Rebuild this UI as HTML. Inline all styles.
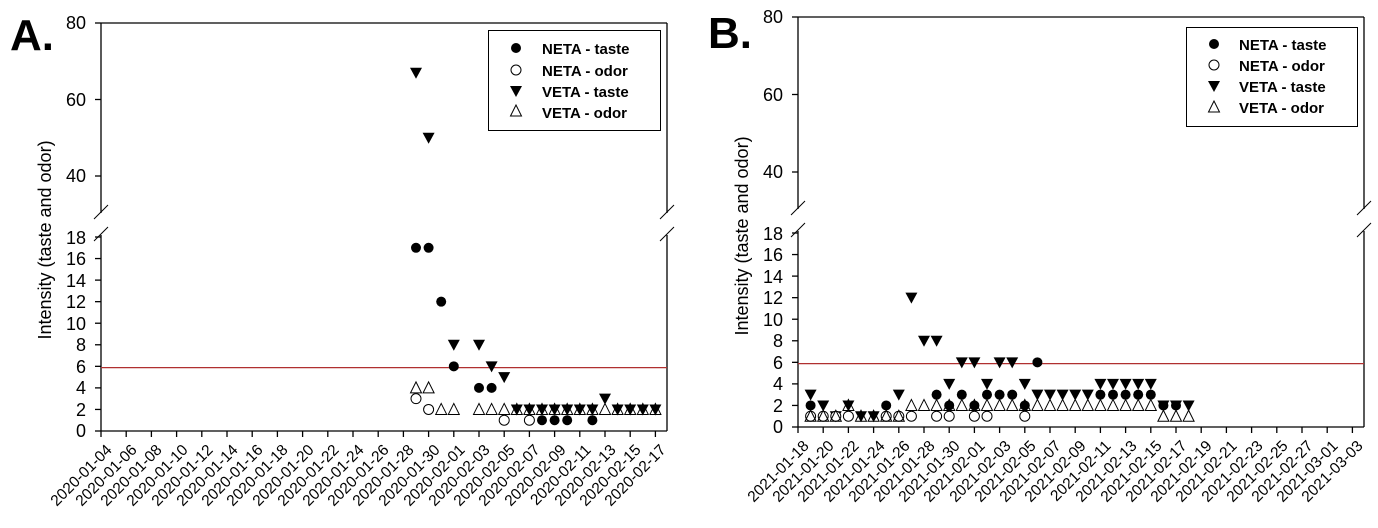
<!DOCTYPE html>
<html><head><meta charset="utf-8"><style>
body{margin:0;background:#fff}
svg{display:block;font-family:"Liberation Sans",Arial,sans-serif}
.t{font-size:18px;fill:#000}
.d{font-size:15.5px;fill:#000}
.lg{font-size:15px;font-weight:bold;fill:#000}
</style></head><body>
<svg id="s" width="1378" height="528" viewBox="0 0 1378 528" xmlns="http://www.w3.org/2000/svg">
<rect width="1378" height="528" fill="#fff"/>
<text x="10" y="50" style="font-size:44px;font-weight:bold">A.</text>
<text x="708" y="48" style="font-size:44px;font-weight:bold">B.</text>
<text class="t" transform="translate(51,240) rotate(-90)" text-anchor="middle" style="font-size:18px">Intensity (taste and odor)</text>
<text class="t" transform="translate(748,236) rotate(-90)" text-anchor="middle" style="font-size:18px">Intensity (taste and odor)</text>
<g id="A"></g><g id="B"></g>
<g class="t" text-anchor="end">
<text x="86" y="29">80</text><text x="86" y="106">60</text><text x="86" y="182">40</text>
<text x="86" y="244">18</text><text x="86" y="265">16</text><text x="86" y="287">14</text><text x="86" y="308">12</text><text x="86" y="330">10</text><text x="86" y="351">8</text><text x="86" y="373">6</text><text x="86" y="394">4</text><text x="86" y="416">2</text><text x="86" y="437">0</text>
<text x="783" y="23">80</text><text x="783" y="101">60</text><text x="783" y="178">40</text>
<text x="783" y="240">18</text><text x="783" y="261">16</text><text x="783" y="283">14</text><text x="783" y="304">12</text><text x="783" y="326">10</text><text x="783" y="347">8</text><text x="783" y="369">6</text><text x="783" y="390">4</text><text x="783" y="412">2</text><text x="783" y="433">0</text>
</g>
<g class="d" text-anchor="end">
<text transform="translate(104,442) rotate(-45)" dy="0.8em">2020-01-04</text>
<text transform="translate(129,442) rotate(-45)" dy="0.8em">2020-01-06</text>
<text transform="translate(154,442) rotate(-45)" dy="0.8em">2020-01-08</text>
<text transform="translate(180,442) rotate(-45)" dy="0.8em">2020-01-10</text>
<text transform="translate(205,442) rotate(-45)" dy="0.8em">2020-01-12</text>
<text transform="translate(230,442) rotate(-45)" dy="0.8em">2020-01-14</text>
<text transform="translate(255,442) rotate(-45)" dy="0.8em">2020-01-16</text>
<text transform="translate(280,442) rotate(-45)" dy="0.8em">2020-01-18</text>
<text transform="translate(306,442) rotate(-45)" dy="0.8em">2020-01-20</text>
<text transform="translate(331,442) rotate(-45)" dy="0.8em">2020-01-22</text>
<text transform="translate(356,442) rotate(-45)" dy="0.8em">2020-01-24</text>
<text transform="translate(381,442) rotate(-45)" dy="0.8em">2020-01-26</text>
<text transform="translate(406,442) rotate(-45)" dy="0.8em">2020-01-28</text>
<text transform="translate(432,442) rotate(-45)" dy="0.8em">2020-01-30</text>
<text transform="translate(457,442) rotate(-45)" dy="0.8em">2020-02-01</text>
<text transform="translate(482,442) rotate(-45)" dy="0.8em">2020-02-03</text>
<text transform="translate(507,442) rotate(-45)" dy="0.8em">2020-02-05</text>
<text transform="translate(532,442) rotate(-45)" dy="0.8em">2020-02-07</text>
<text transform="translate(558,442) rotate(-45)" dy="0.8em">2020-02-09</text>
<text transform="translate(583,442) rotate(-45)" dy="0.8em">2020-02-11</text>
<text transform="translate(608,442) rotate(-45)" dy="0.8em">2020-02-13</text>
<text transform="translate(633,442) rotate(-45)" dy="0.8em">2020-02-15</text>
<text transform="translate(658,442) rotate(-45)" dy="0.8em">2020-02-17</text>
<text transform="translate(801,438) rotate(-45)" dy="0.8em">2021-01-18</text>
<text transform="translate(826,438) rotate(-45)" dy="0.8em">2021-01-20</text>
<text transform="translate(851,438) rotate(-45)" dy="0.8em">2021-01-22</text>
<text transform="translate(877,438) rotate(-45)" dy="0.8em">2021-01-24</text>
<text transform="translate(902,438) rotate(-45)" dy="0.8em">2021-01-26</text>
<text transform="translate(927,438) rotate(-45)" dy="0.8em">2021-01-28</text>
<text transform="translate(952,438) rotate(-45)" dy="0.8em">2021-01-30</text>
<text transform="translate(977,438) rotate(-45)" dy="0.8em">2021-02-01</text>
<text transform="translate(1003,438) rotate(-45)" dy="0.8em">2021-02-03</text>
<text transform="translate(1028,438) rotate(-45)" dy="0.8em">2021-02-05</text>
<text transform="translate(1053,438) rotate(-45)" dy="0.8em">2021-02-07</text>
<text transform="translate(1078,438) rotate(-45)" dy="0.8em">2021-02-09</text>
<text transform="translate(1103,438) rotate(-45)" dy="0.8em">2021-02-11</text>
<text transform="translate(1129,438) rotate(-45)" dy="0.8em">2021-02-13</text>
<text transform="translate(1154,438) rotate(-45)" dy="0.8em">2021-02-15</text>
<text transform="translate(1179,438) rotate(-45)" dy="0.8em">2021-02-17</text>
<text transform="translate(1204,438) rotate(-45)" dy="0.8em">2021-02-19</text>
<text transform="translate(1229,438) rotate(-45)" dy="0.8em">2021-02-21</text>
<text transform="translate(1255,438) rotate(-45)" dy="0.8em">2021-02-23</text>
<text transform="translate(1280,438) rotate(-45)" dy="0.8em">2021-02-25</text>
<text transform="translate(1305,438) rotate(-45)" dy="0.8em">2021-02-27</text>
<text transform="translate(1330,438) rotate(-45)" dy="0.8em">2021-03-01</text>
<text transform="translate(1355,438) rotate(-45)" dy="0.8em">2021-03-03</text>
</g>
<rect x="488.5" y="30.5" width="172" height="100" fill="#fff" stroke="#000"/>
<g class="lg"><text x="542" y="54">NETA - taste</text><text x="542" y="76">NETA - odor</text><text x="542" y="97">VETA - taste</text><text x="542" y="118">VETA - odor</text></g>
<rect x="1186.5" y="27.5" width="171" height="99" fill="#fff" stroke="#000"/>
<g class="lg"><text x="1239" y="50">NETA - taste</text><text x="1239" y="71">NETA - odor</text><text x="1239" y="92">VETA - taste</text><text x="1239" y="113">VETA - odor</text></g>
<g id="L"></g>
</svg>
<script>
var NS="http://www.w3.org/2000/svg";
function el(p,t,a){var e=document.createElementNS(NS,t);for(var k in a)e.setAttribute(k,a[k]);p.appendChild(e);return e;}
function mk(g,type,x,y){
 var r=5;
 if(type=='c')el(g,'circle',{cx:x,cy:y,r:r,fill:'#000'});
 else if(type=='o')el(g,'circle',{cx:x,cy:y,r:r,fill:'#fff',stroke:'#000','stroke-width':1});
 else if(type=='v')el(g,'polygon',{points:(x-6)+','+(y-5)+' '+(x+6)+','+(y-5)+' '+x+','+(y+6),fill:'#000'});
 else el(g,'polygon',{points:(x-5.5)+','+(y+5)+' '+(x+5.5)+','+(y+5)+' '+x+','+(y-6),fill:'none',stroke:'#000','stroke-width':1});
}
function panel(id,X0,top,uy80,uy40,ly18,ly0,data){
 var g=document.getElementById(id),X1=X0+566,st={stroke:'#000','stroke-width':1.3};
 var gapT=ly18-24,gapB=ly18-2;
 function L(a,b,c,d,s){el(g,'line',Object.assign({x1:a,y1:b,x2:c,y2:d},s||st));}
 L(X0,top,X1,top);L(X0,top,X0,gapT);L(X0,gapB,X0,ly0);L(X1,top,X1,gapT);L(X1,gapB,X1,ly0);L(X0,ly0,X1,ly0);
 [X0,X1].forEach(function(x){L(x-7,gapT+6,x+7,gapT-8,{stroke:'#000','stroke-width':1});L(x-7,gapB+6,x+7,gapB-8,{stroke:'#000','stroke-width':1});});
 var us=(uy40-uy80)/40;
 [80,60,40].forEach(function(v){var y=uy80+(80-v)*us;L(X0-6,y,X0,y);});
 var ls=(ly0-ly18)/18;
 for(var v=0;v<=18;v+=2){var y=ly0-v*ls;L(X0-6,y,X0,y);}
 for(var d=0;d<=44;d+=2){var x=X0+d*12.6;L(x,ly0,x,ly0+6);}
 el(g,'line',{x1:X0,x2:X1,y1:ly0-5.88*ls,y2:ly0-5.88*ls,stroke:'#b03030','stroke-width':1.3});
 data.forEach(function(p){var x=X0+p[0]*12.6;for(var i=1;i<p.length;i++){var t=p[i][0],v=p[i][1];var y=v>20?uy80+(80-v)*us:ly0-v*ls;mk(g,t,x,y);}});
}
panel('A',101,23,23,176,237,431,[
[25,['v',67],['c',17],['o',3],['t',4]],[26,['v',50],['c',17],['o',2],['t',4]],[27,['c',12],['t',2]],[28,['v',8],['c',6],['t',2]],
[30,['v',8],['c',4],['t',2]],[31,['v',6],['c',4],['t',2]],[32,['v',5],['o',1],['t',2]],[33,['v',2],['t',2]],[34,['o',1],['v',2],['t',2]],
[35,['c',1],['v',2],['t',2]],[36,['c',1],['v',2],['t',2]],[37,['c',1],['v',2],['t',2]],[38,['v',2],['t',2]],[39,['c',1],['v',2],['t',2]],
[40,['v',3],['t',2]],[41,['v',2],['t',2]],[42,['v',2],['t',2]],[43,['v',2],['t',2]],[44,['v',2],['t',2]]]);
panel('B',798,17,17,172,233,427,[
[1,['v',3],['c',2],['o',1],['t',1]],[2,['v',2],['o',1],['t',1]],[3,['v',1],['o',1],['t',1]],[4,['v',2],['o',1],['t',2]],[5,['v',1],['t',1]],[6,['v',1],['t',1]],
[7,['c',2],['o',1],['t',1]],[8,['v',3],['o',1],['t',1]],[9,['v',12],['o',1],['t',2]],[10,['v',8],['t',2]],[11,['v',8],['c',3],['o',1],['t',2]],
[12,['v',4],['c',2],['o',1],['t',2]],[13,['v',6],['c',3],['t',2]],[14,['v',6],['c',2],['o',1],['t',2]],[15,['v',4],['c',3],['o',1],['t',2]],
[16,['v',6],['c',3],['t',2]],[17,['v',6],['c',3],['t',2]],[18,['v',4],['c',2],['o',1],['t',2]],[19,['v',3],['c',6],['t',2]],
[20,['v',3],['t',2]],[21,['v',3],['t',2]],[22,['v',3],['t',2]],[23,['v',3],['t',2]],
[24,['v',4],['c',3],['t',2]],[25,['v',4],['c',3],['t',2]],[26,['v',4],['c',3],['t',2]],[27,['v',4],['c',3],['t',2]],[28,['v',4],['c',3],['t',2]],
[29,['v',2],['c',2],['t',1]],[30,['v',2],['c',2],['t',1]],[31,['v',2],['t',1]]]);
var Lg=document.getElementById('L');
[[516,48,1214,44,'c'],[516,70,1214,65,'o'],[516,91,1214,86,'v'],[516,111,1214,107,'t']].forEach(function(a){mk(Lg,a[4],a[0],a[1]);mk(Lg,a[4],a[2],a[3]);});
</script>
</body></html>
